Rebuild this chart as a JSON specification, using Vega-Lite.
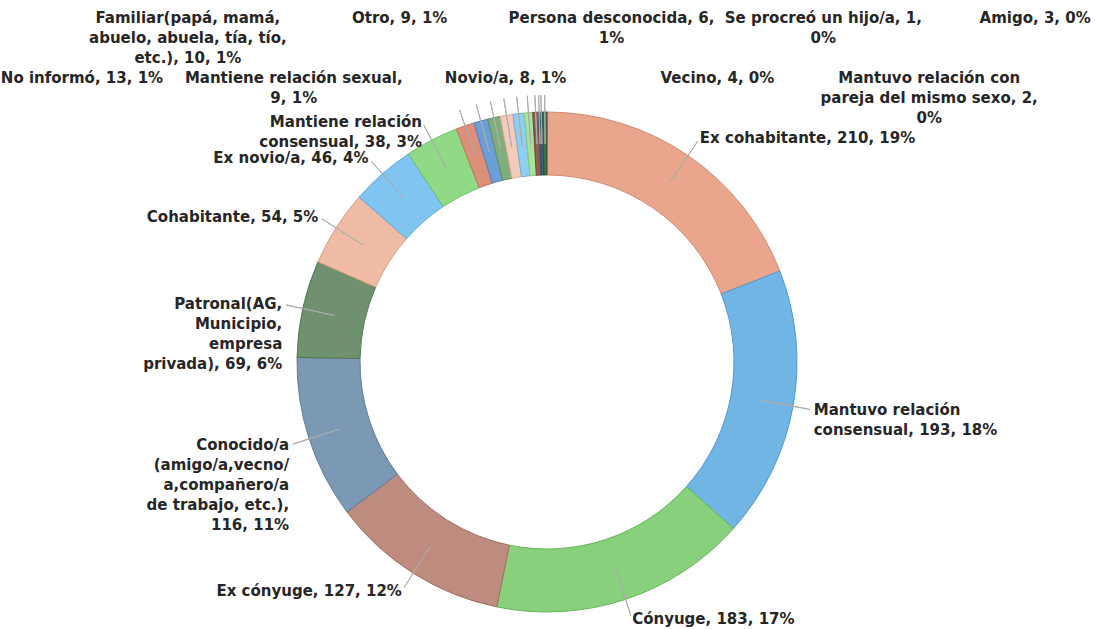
{
  "$schema": "https://vega.github.io/schema/vega-lite/v6.json",
  "width": 1094,
  "height": 724,
  "autosize": "none",
  "padding": 0,
  "background": "white",
  "config": {"view": {"stroke": null}, "font": "DejaVu Sans"},
  "data": {
    "values": [
      {"orden": 1, "categoria": "Ex cohabitante", "n": 210, "pct": "19%", "etiqueta": "Ex cohabitante, 210, 19%"},
      {"orden": 2, "categoria": "Mantuvo relación consensual", "n": 193, "pct": "18%", "etiqueta": "Mantuvo relación\nconsensual, 193, 18%"},
      {"orden": 3, "categoria": "Cónyuge", "n": 183, "pct": "17%", "etiqueta": "Cónyuge, 183, 17%"},
      {"orden": 4, "categoria": "Ex cónyuge", "n": 127, "pct": "12%", "etiqueta": "Ex cónyuge, 127, 12%"},
      {"orden": 5, "categoria": "Conocido/a (amigo/a,vecno/a,compañero/a de trabajo, etc.)", "n": 116, "pct": "11%", "etiqueta": "Conocido/a\n(amigo/a,vecno/\na,compañero/a\nde trabajo, etc.),\n116, 11%"},
      {"orden": 6, "categoria": "Patronal(AG, Municipio, empresa privada)", "n": 69, "pct": "6%", "etiqueta": "Patronal(AG,\nMunicipio,\nempresa\nprivada), 69, 6%"},
      {"orden": 7, "categoria": "Cohabitante", "n": 54, "pct": "5%", "etiqueta": "Cohabitante, 54, 5%"},
      {"orden": 8, "categoria": "Ex novio/a", "n": 46, "pct": "4%", "etiqueta": "Ex novio/a, 46, 4%"},
      {"orden": 9, "categoria": "Mantiene relación consensual", "n": 38, "pct": "3%", "etiqueta": "Mantiene relación\nconsensual, 38, 3%"},
      {"orden": 10, "categoria": "No informó", "n": 13, "pct": "1%", "etiqueta": "No informó, 13, 1%"},
      {"orden": 11, "categoria": "Familiar(papá, mamá, abuelo, abuela, tía, tío, etc.)", "n": 10, "pct": "1%", "etiqueta": "Familiar(papá, mamá,\nabuelo, abuela, tía, tío,\netc.), 10, 1%"},
      {"orden": 12, "categoria": "Mantiene relación sexual", "n": 9, "pct": "1%", "etiqueta": "Mantiene relación sexual,\n9, 1%"},
      {"orden": 13, "categoria": "Otro", "n": 9, "pct": "1%", "etiqueta": "Otro, 9, 1%"},
      {"orden": 14, "categoria": "Novio/a", "n": 8, "pct": "1%", "etiqueta": "Novio/a, 8, 1%"},
      {"orden": 15, "categoria": "Persona desconocida", "n": 6, "pct": "1%", "etiqueta": "Persona desconocida, 6,\n1%"},
      {"orden": 16, "categoria": "Vecino", "n": 4, "pct": "0%", "etiqueta": "Vecino, 4, 0%"},
      {"orden": 17, "categoria": "Se procreó un hijo/a", "n": 1, "pct": "0%", "etiqueta": "Se procreó un hijo/a, 1,\n0%"},
      {"orden": 18, "categoria": "Mantuvo relación con pareja del mismo sexo", "n": 2, "pct": "0%", "etiqueta": "Mantuvo relación con\npareja del mismo sexo, 2,\n0%"},
      {"orden": 19, "categoria": "Amigo", "n": 3, "pct": "0%", "etiqueta": "Amigo, 3, 0%"}
    ]
  },
  "layer": [
    {
      "mark": {"type": "arc", "innerRadius": 187, "outerRadius": 250, "strokeWidth": 1},
      "encoding": {
        "theta": {"field": "n", "type": "quantitative", "stack": true},
        "order": {"field": "orden", "type": "quantitative", "sort": "ascending"},
        "color": {
          "field": "categoria", "type": "nominal", "legend": null,
          "scale": {
            "domain": ["Ex cohabitante", "Mantuvo relación consensual", "Cónyuge", "Ex cónyuge", "Conocido/a (amigo/a,vecno/a,compañero/a de trabajo, etc.)", "Patronal(AG, Municipio, empresa privada)", "Cohabitante", "Ex novio/a", "Mantiene relación consensual", "No informó", "Familiar(papá, mamá, abuelo, abuela, tía, tío, etc.)", "Mantiene relación sexual", "Otro", "Novio/a", "Persona desconocida", "Vecino", "Se procreó un hijo/a", "Mantuvo relación con pareja del mismo sexo", "Amigo"],
            "range": ["#E9A68D", "#70B5E4", "#88D07C", "#BE8C7F", "#7B98B4", "#6F916F", "#F0BBA4", "#80C5EF", "#90DA85", "#DD8F7A", "#6C9FD8", "#7FAD7C", "#F4CBBA", "#90CEF3", "#A6E39C", "#8E5F4C", "#5B7391", "#46627E", "#3F6D4B"]
          }
        },
        "stroke": {
          "field": "categoria", "type": "nominal", "legend": null,
          "scale": {
            "domain": ["Ex cohabitante", "Mantuvo relación consensual", "Cónyuge", "Ex cónyuge", "Conocido/a (amigo/a,vecno/a,compañero/a de trabajo, etc.)", "Patronal(AG, Municipio, empresa privada)", "Cohabitante", "Ex novio/a", "Mantiene relación consensual", "No informó", "Familiar(papá, mamá, abuelo, abuela, tía, tío, etc.)", "Mantiene relación sexual", "Otro", "Novio/a", "Persona desconocida", "Vecino", "Se procreó un hijo/a", "Mantuvo relación con pareja del mismo sexo", "Amigo"],
            "range": ["#D08A72", "#4E9ACF", "#64B458", "#A06E62", "#5D7C99", "#517553", "#D99E88", "#5EABD9", "#6CBE62", "#C2735E", "#4E83BE", "#5F9160", "#DDB09E", "#6EB3DC", "#84C87A", "#70452F", "#435A76", "#2E4A64", "#2A5436"]
          }
        }
      }
    },
    {
      "mark": {"type": "arc", "innerRadius": 218, "outerRadius": 267, "padAngle": 3, "fill": "transparent", "stroke": "#acacac", "strokeWidth": 1},
      "encoding": {
        "theta": {"field": "n", "type": "quantitative", "stack": true},
        "order": {"field": "orden", "type": "quantitative", "sort": "ascending"},
        "detail": {"field": "categoria", "type": "nominal"}
      }
    },
    {
      "mark": {"type": "text", "radius": 271, "align": "left", "baseline": "middle", "font": "DejaVu Sans", "fontWeight": "bold", "fontSize": 15, "lineBreak": "\n", "lineHeight": 20, "color": "#262626"},
      "encoding": {
        "theta": {"field": "n", "type": "quantitative", "stack": true},
        "order": {"field": "orden", "type": "quantitative", "sort": "ascending"},
        "detail": {"field": "categoria", "type": "nominal"},
        "text": {"condition": {"test": "datum.orden <= 3", "field": "etiqueta"}, "value": ""}
      }
    },
    {
      "mark": {"type": "text", "radius": 271, "align": "right", "baseline": "middle", "font": "DejaVu Sans", "fontWeight": "bold", "fontSize": 15, "lineBreak": "\n", "lineHeight": 20, "color": "#262626"},
      "encoding": {
        "theta": {"field": "n", "type": "quantitative", "stack": true},
        "order": {"field": "orden", "type": "quantitative", "sort": "ascending"},
        "detail": {"field": "categoria", "type": "nominal"},
        "text": {"condition": {"test": "datum.orden >= 4 && datum.orden <= 9", "field": "etiqueta"}, "value": ""}
      }
    },
    {
      "mark": {"type": "text", "align": "center", "baseline": "middle", "font": "DejaVu Sans", "fontWeight": "bold", "fontSize": 15, "lineBreak": "\n", "lineHeight": 20, "color": "#262626"},
      "encoding": {
        "x": {"field": "orden", "type": "quantitative", "axis": null, "scale": {"domain": [9.226, 19.556], "nice": false, "zero": false}},
        "y": {"value": 18},
        "text": {"condition": {"test": "datum.orden >= 10 && datum.orden % 2 == 1", "field": "etiqueta"}, "value": ""}
      }
    },
    {
      "mark": {"type": "text", "align": "center", "baseline": "middle", "font": "DejaVu Sans", "fontWeight": "bold", "fontSize": 15, "lineBreak": "\n", "lineHeight": 20, "color": "#262626"},
      "encoding": {
        "x": {"field": "orden", "type": "quantitative", "axis": null, "scale": {"domain": [9.226, 19.556], "nice": false, "zero": false}},
        "y": {"value": 78},
        "text": {"condition": {"test": "datum.orden >= 10 && datum.orden % 2 == 0", "field": "etiqueta"}, "value": ""}
      }
    }
  ]
}
